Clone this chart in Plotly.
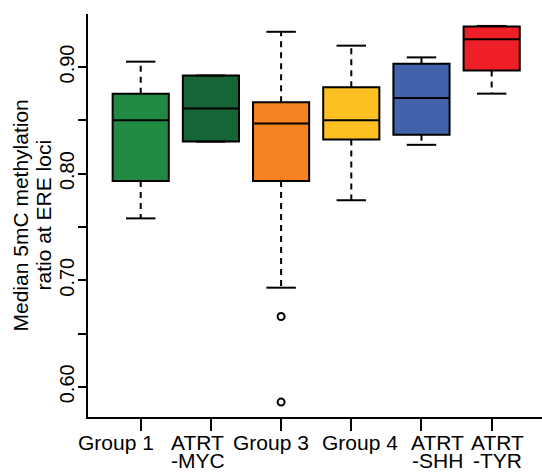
import plotly.graph_objects as go

groups = ["Group 1", "ATRT-MYC", "Group 3", "Group 4", "ATRT-SHH", "ATRT-TYR"]
label_line1 = ["Group 1", "ATRT", "Group 3", "Group 4", "ATRT", "ATRT"]
label_line2 = ["", "-MYC", "", "", "-SHH", "-TYR"]
colors = ["#208A43", "#176436", "#F68121", "#FDC023", "#4262AC", "#EE1F26"]

q1 = [0.793, 0.830, 0.793, 0.832, 0.8365, 0.8966]
median = [0.850, 0.861, 0.847, 0.850, 0.871, 0.926]
q3 = [0.875, 0.892, 0.867, 0.881, 0.903, 0.938]
lower = [0.758, 0.830, 0.693, 0.775, 0.827, 0.875]
upper = [0.905, 0.892, 0.933, 0.920, 0.909, 0.9385]
outlier_group = [3, 3]
outlier_vals = [0.666, 0.5857]

ytick_vals = [0.60, 0.65, 0.70, 0.75, 0.80, 0.85, 0.90, 0.95]
ytick_text = ["0.60", "", "0.70", "", "0.80", "", "0.90", ""]
ytitle_lines = ["Median 5mC methylation", "ratio at ERE loci"]

# horizontal pixel nudges of the category labels relative to their ticks (layout only)
label_nudge = [-25, -13, -10, 9, 16, 6]

FONT = "Liberation Sans, Arial, Helvetica, sans-serif"
fig = go.Figure()

# dashed whiskers
wx, wy = [], []
for i in range(len(groups)):
    xpos = i + 1
    wx += [xpos, xpos, None, xpos, xpos, None]
    wy += [q3[i], upper[i], None, q1[i], lower[i], None]
fig.add_trace(go.Scatter(x=wx, y=wy, mode="lines",
                         line=dict(color="black", width=2, dash="6px,5px"),
                         hoverinfo="skip", showlegend=False))
# staples
cap = 0.21
cx, cy = [], []
for i in range(len(groups)):
    xpos = i + 1
    cx += [xpos - cap, xpos + cap, None, xpos - cap, xpos + cap, None]
    cy += [upper[i], upper[i], None, lower[i], lower[i], None]
fig.add_trace(go.Scatter(x=cx, y=cy, mode="lines",
                         line=dict(color="black", width=2),
                         hoverinfo="skip", showlegend=False))

for i, g in enumerate(groups):
    fig.add_trace(go.Box(
        x=[i + 1], q1=[q1[i]], median=[median[i]], q3=[q3[i]],
        lowerfence=[q1[i]], upperfence=[q3[i]],
        width=0.8, whiskerwidth=0, boxpoints=False,
        fillcolor=colors[i], line=dict(color="black", width=2),
        name=g, showlegend=False))

fig.add_trace(go.Scatter(x=outlier_group, y=outlier_vals, mode="markers",
                         marker=dict(symbol="circle-open", size=7,
                                     color="black", line=dict(width=2)),
                         showlegend=False))

for i in range(len(groups)):
    for t, ys in ((label_line1[i], -12), (label_line2[i], -30)):
        if t:
            fig.add_annotation(x=i + 1, xref="x", y=0, yref="paper",
                               text=t, showarrow=False, yanchor="top",
                               xshift=label_nudge[i], yshift=ys,
                               font=dict(size=21, color="black", family=FONT))

for t, px in zip(ytitle_lines, [20, 43]):
    fig.add_annotation(x=(px - 88) / 454, xref="paper", y=0.5, yref="paper",
                       text=t, textangle=-90, showarrow=False,
                       xanchor="center", yanchor="middle",
                       font=dict(size=21, color="black", family=FONT))

fig.update_layout(
    template="none",
    width=542, height=475,
    margin=dict(l=88, r=0, t=14, b=58, pad=0),
    paper_bgcolor="white", plot_bgcolor="white",
    boxmode="overlay",
    font=dict(family=FONT, size=20, color="black"),
    xaxis=dict(range=[0.249, 6.717], tickvals=list(range(1, 7)),
               showticklabels=False, automargin=False,
               ticks="outside", ticklen=12, tickwidth=2, tickcolor="black",
               showline=True, linewidth=2, linecolor="black",
               showgrid=False, zeroline=False),
    yaxis=dict(range=[0.5717, 0.9497], tickvals=ytick_vals, ticktext=ytick_text,
               tickangle=-90, automargin=False, ticklabelstandoff=-4,
               ticks="outside", ticklen=8, tickwidth=2, tickcolor="black",
               showline=True, linewidth=2, linecolor="black",
               showgrid=False, zeroline=False,
               tickfont=dict(size=20, color="black", family=FONT)),
)

fig.write_html("out.html", config={"displayModeBar": False},
               post_script="document.body.style.margin='0px';")
